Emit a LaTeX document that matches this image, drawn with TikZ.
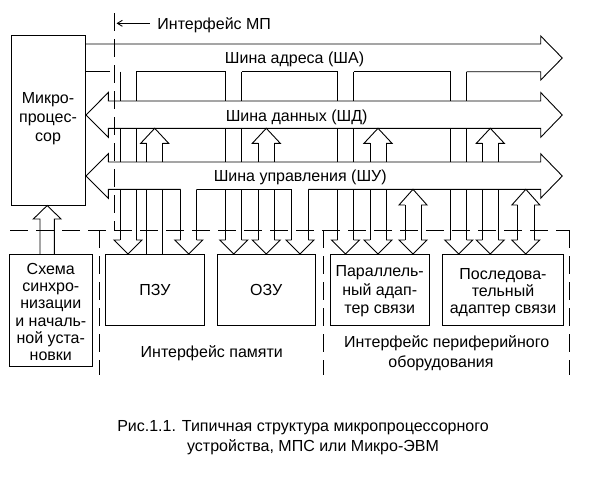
\documentclass[tikz,border=0pt]{standalone}
\usepackage{fontspec}
\setmainfont{Liberation Sans}
\usetikzlibrary{arrows.meta}
\begin{document}
\begin{tikzpicture}[x=1pt,y=-1pt,line width=0.9pt,
  txt/.style={inner sep=0pt,font=\fontsize{16}{19}\selectfont},
  boxnode/.style={draw,inner sep=0pt,outer sep=0pt,anchor=north west},
  dashline/.style={dash pattern=on 18pt off 8pt},
]
\useasboundingbox[fill=white] (0,0) rectangle (606,491);

% ---- boxes ----
\node[boxnode,minimum width=74pt,minimum height=170pt] (mp) at (11,35) {};
\node[boxnode,minimum width=98.6pt,minimum height=71pt] (rom) at (105.7,254) {};
\node[boxnode,minimum width=97.7pt,minimum height=71pt] (ram) at (217.3,254) {};
\node[boxnode,minimum width=99.3pt,minimum height=71pt] (par) at (330,254) {};
\node[boxnode,minimum width=120.6pt,minimum height=71pt] (ser) at (442.7,254) {};
\node[boxnode,minimum width=83pt,minimum height=112.7pt] (sync) at (9.3,254) {};

% ---- box texts ----
\node[txt,align=center,anchor=north,font=\fontsize{16}{19.2}\selectfont] (mptxt) at (48,91.8) {Микро-\\процес-\\сор};
\node[txt,align=center,anchor=north,font=\fontsize{16}{17.3}\selectfont] (synctxt) at (50.8,262.5) {Схема\\синхро-\\низации\\и началь-\\ной уста-\\новки};
\node[txt] (romtxt) at (rom.center) {ПЗУ};
\node[txt] (ramtxt) at (ram.center) {ОЗУ};
\node[txt,align=center,anchor=north,font=\fontsize{16}{18.2}\selectfont] (partxt) at (379.7,265.5) {Параллель-\\ный адап-\\тер связи};
\node[txt,align=center,anchor=north,font=\fontsize{16}{16.7}\selectfont] (sertxt) at (503,268.5) {Последова-\\тельный\\адаптер связи};

% ---- tap lines (under the buses) ----
\foreach \l/\r in {120/136, 225.7/241.7, 337.5/353.5, 450.7/466.7}
  {\draw (\l,71.7) -- (\l,240) (\r,71.7) -- (\r,240);}
\draw (146.7,143.3) -- (146.7,254) (162.7,143.3) -- (162.7,254);
\foreach \l/\r in {258.3/274.3, 370/386, 482.3/498.3}
  {\draw (\l,143.3) -- (\l,240) (\r,143.3) -- (\r,240);}
\foreach \l/\r in {180.7/196.7, 291.7/308.3}
  {\draw (\l,189.3) -- (\l,240) (\r,189.3) -- (\r,240);}
\foreach \l/\r in {405/421, 517.7/534}
  {\draw (\l,205) -- (\l,240) (\r,205) -- (\r,240);}

% ---- address bus ----
\draw (85,44) -- (540.7,44) -- (540.7,36) -- (562.3,58) -- (540.7,80) -- (540.7,71.7) -- (466.7,71.7);
\draw (450.7,71.7) -- (353.5,71.7);
\draw (337.5,71.7) -- (241.7,71.7);
\draw (225.7,71.7) -- (136,71.7);
\draw (110,71.7) -- (85,71.7);

% ---- data bus ----
\draw[fill=white] (108.3,101) -- (540.7,101) -- (540.7,92.5) -- (562.3,115) -- (540.7,137.3)
  -- (540.7,128.3) -- (108.3,128.3) -- (108.3,137.3) -- (86,115) -- (108.3,92.5) -- cycle;

% ---- control bus ----
\fill[white] (108.3,162) -- (540.7,162) -- (540.7,153.8) -- (562.3,176) -- (540.7,198.2)
  -- (540.7,189.3) -- (108.3,189.3) -- (108.3,198.2) -- (86,176) -- (108.3,153.8) -- cycle;
\draw (108.3,162) -- (540.7,162) -- (540.7,153.8) -- (562.3,176) -- (540.7,198.2) -- (540.7,189.3) -- (308.3,189.3);
\draw (291.7,189.3) -- (196.7,189.3);
\draw (180.7,189.3) -- (108.3,189.3) -- (108.3,198.2) -- (86,176) -- (108.3,153.8) -- (108.3,162);

% ---- arrow heads ----
\foreach \l/\r in {120/136, 225.7/241.7, 337.5/353.5, 450.7/466.7,
                   258.3/274.3, 370/386, 482.3/498.3,
                   180.7/196.7, 291.7/308.3, 405/421, 517.7/534}
  {\pgfmathsetmacro\cc{(\l+\r)/2}
   \draw (\l,240) -- (\cc-14,240) -- (\cc,254) -- (\cc+14,240) -- (\r,240);}
\foreach \l/\r in {146.7/162.7, 258.3/274.3, 370/386, 482.3/498.3}
  {\pgfmathsetmacro\cc{(\l+\r)/2}
   \draw (\l,143.3) -- (\cc-14,143.3) -- (\cc,128.3) -- (\cc+14,143.3) -- (\r,143.3);}
\foreach \l/\r in {405/421, 517.7/534}
  {\pgfmathsetmacro\cc{(\l+\r)/2}
   \draw (\l,205) -- (\cc-14,205) -- (\cc,189.3) -- (\cc+14,205) -- (\r,205);}

% ---- sync arrow ----
\draw (40,254) -- (40,219) -- (33.3,219) -- (47.2,205.5) -- (61,219) -- (54.3,219) -- (54.3,254);

% ---- dashed interface lines ----
\draw[dashline] (114.3,13.3) -- (114.3,230);
\draw[dashline] (10,230) -- (569.3,230);
\draw[dashline] (99,230) -- (99,375);
\draw[dashline] (323.3,230) -- (323.3,375);
\draw[dashline] (569.3,230) -- (569.3,375);

% ---- interface MP arrow ----
\coordinate (ifa) at (116.5,23.3);
\coordinate (ifb) at (150,23.3);
\draw[{Straight Barb[length=5pt,width=6pt]}-] (ifa) -- (ifb);
\node[txt,anchor=base west] (lmp) at (157,29.3) {Интерфейс МП};

% ---- bus labels ----
\node[txt,anchor=base west] (la) at (224.5,63.5) {Шина адреса (ША)};
\node[txt,anchor=base west] (ld) at (225.3,121) {Шина данных (ШД)};
\node[txt,anchor=base west] (lc) at (213.3,181.7) {Шина управления (ШУ)};

% ---- region labels ----
\node[txt,anchor=base] (lmem) at (211.8,357.5) {Интерфейс памяти};
\node[txt,anchor=base] (lper1) at (446.7,347.5) {Интерфейс периферийного};
\node[txt,anchor=base] (lper2) at (441,367) {оборудования};

% ---- caption ----
\node[txt,anchor=base] (cap1) at (303,431.5) {Рис.1.1. Типичная структура микропроцессорного};
\node[txt,anchor=base] (cap2) at (313,451) {устройства, МПС или Микро-ЭВМ};
\end{tikzpicture}
\end{document}
